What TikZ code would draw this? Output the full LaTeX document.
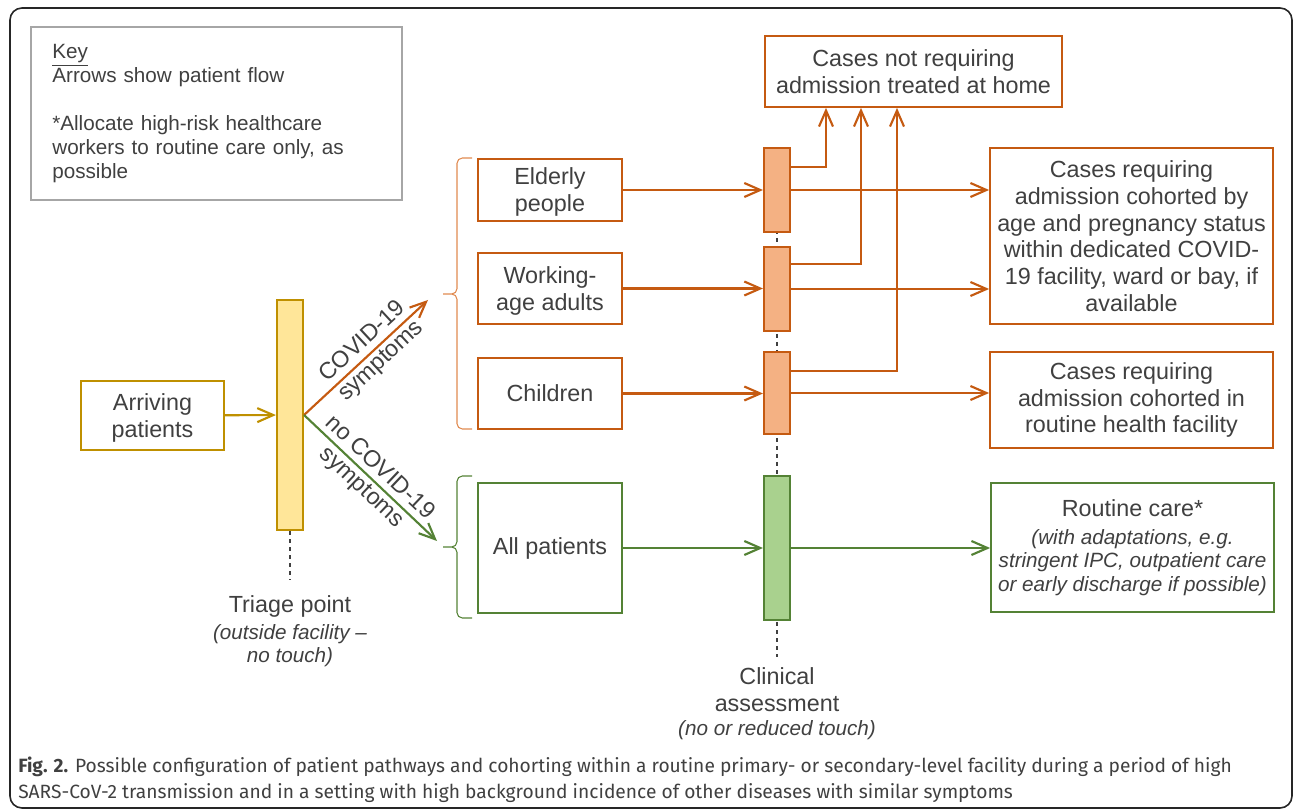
\documentclass[tikz,border=0pt]{standalone}
\usepackage{fontspec}
\setmainfont{Liberation Sans}
\newfontfamily\capfont{Fira Sans}
\usetikzlibrary{arrows.meta,backgrounds}
\definecolor{txt}{HTML}{404040}
\definecolor{gold}{HTML}{BF9000}
\definecolor{goldfill}{HTML}{FFE699}
\definecolor{rust}{HTML}{C55A11}
\definecolor{rustfill}{HTML}{F4B183}
\definecolor{rustbrace}{HTML}{E08A50}
\definecolor{leaf}{HTML}{548235}
\definecolor{leaffill}{HTML}{A9D18E}
\definecolor{keygray}{HTML}{A6A6A6}
\newcommand{\mainsz}{\fontsize{17.5}{20}\selectfont}
\newcommand{\notesz}{\fontsize{15.5}{17.5}\selectfont\itshape}
\tikzstyle{box}=[draw, line width=1.6pt, fill=white, text=txt, align=center, inner sep=0pt, font=\mainsz]
\tikzstyle{bar}=[draw, line width=1.6pt, minimum width=19.5pt, inner sep=0pt]
\tikzstyle{flow}=[line width=1.6pt, -{Straight Barb[length=12pt,width=10.5pt,line width=1.6pt]}]
\tikzstyle{l}=[text=txt, align=center, font=\mainsz, inner sep=1pt]
\tikzstyle{brc}=[line width=0.8pt, rounded corners=4pt]

\begin{document}
\begin{tikzpicture}[x=0.75pt, y=-0.75pt]
\useasboundingbox (0,0) rectangle (1295,812);
\draw[line width=1.2pt, rounded corners=9pt, black!85] (10,8) rectangle (1292,808);
% key
\node[draw=keygray, line width=1.5pt, anchor=north west, minimum width=278pt, minimum height=130pt,
  text width=246pt, inner xsep=15.75pt, align=left, text=txt, font=\fontsize{15.5}{18}\selectfont] (key) at (30,26)
  {\underline{Key}\\Arrows show patient flow\\[18pt]*Allocate high-risk healthcare\\workers to routine care only, as\\possible};
% triage
\node[box, draw=gold, minimum width=107pt, minimum height=52pt] (arr) at (152.5,415.5) {\rule{0pt}{16pt}Arriving\\patients};
\node[bar, draw=gold, fill=goldfill, minimum height=172.5pt] (tri) at (290,415) {};
\draw[flow, gold] (arr) -- (tri);
\draw[dashed, txt, line width=0.8pt] (tri.south) -- ++(0,49);
\node[l, anchor=north] (trilab) at (290,594) {Triage point\\{\notesz (outside facility --}\\[-2.5pt]{\notesz no touch)}};
\coordinate (cv) at (428,300);
\coordinate (nc) at (437,541);
\draw[flow, rust] (tri.east) -- node[l, sloped, pos=0.55] {COVID-19\\symptoms} (cv);
\draw[flow, leaf] (tri.east) -- node[l, sloped, midway] {no COVID-19\\symptoms} (nc);
% patient groups
\foreach \c/\t/\m/\b in {rustbrace/158/294/429, leaf/476/547/618}
  \draw[brc, \c] (472,\t) -| (457,\m) -- (443,\m) (443,\m) -- (457,\m) |- (472,\b);
\foreach \n/\y/\h/\t in {eld/190/46.5/{\rule{0pt}{16pt}Elderly\\people}, wrk/288.5/53/{\rule{0pt}{16pt}Working-\\age adults}, chi/393.5/53/Children}
  \node[box, draw=rust, minimum width=108pt, minimum height=\h pt] (\n) at (550,\y) {\t};
\node[box, draw=leaf, minimum width=108pt, minimum height=97.5pt] (all) at (550,548) {All patients};
% clinical assessment
\foreach \n/\y/\h in {b1/190/63, b2/289/63, b3/393/61.5}
  \node[bar, draw=rust, fill=rustfill, minimum height=\h pt] (\n) at (777,\y) {};
\node[bar, draw=leaf, fill=leaffill, minimum height=108pt] (gb) at (777,548) {};
\begin{scope}[on background layer]
\draw[dashed, txt, line width=0.8pt] (b1.center) -- ++(0,467);
\end{scope}
\node[l, anchor=north] (clin) at (777,666) {Clinical\\assessment\\[-2pt]{\notesz (no or reduced touch)}};
% outcomes
\node[box, draw=rust, minimum width=222.75pt, minimum height=53pt] (home) at (913.5,71.5) {Cases not requiring\\admission treated at home};
\node[box, draw=rust, minimum width=212pt, minimum height=132pt] (adm) at (1131.5,236)
  {Cases requiring\\admission cohorted by\\age and pregnancy status\\within dedicated COVID-\\19 facility, ward or bay, if\\available};
\node[box, draw=rust, minimum width=212pt, minimum height=72pt] (rout) at (1131.5,400) {Cases requiring\\admission cohorted in\\routine health facility};
\node[box, draw=leaf, minimum width=212pt, minimum height=97pt] (rc) at (1132.5,547.5)
  {Routine care*\\[1pt]{\notesz (with adaptations, e.g.}\\[-2.5pt]{\notesz stringent IPC, outpatient care}\\[-2.5pt]{\notesz or early discharge if possible)}};
% flows
\foreach \f/\t in {eld/b1, wrk/b2, chi/b3}
  \draw[flow, rust] (\f.east) -- (\f.east -| \t.west);
\draw[flow, leaf] (all.east) -- (all.east -| gb.west);
\foreach \f/\t in {b1/adm, b2/adm, b3/rout}
  \draw[flow, rust] (\f.east) -- (\f.east -| \t.west);
\draw[flow, leaf] (gb.east) -- (gb.east -| rc.west);
\foreach \f/\x/\d in {b1/826/17, b2/861/18.75, b3/897/16.5}
  \draw[flow, rust] ([yshift=\d pt]\f.east) -| (\x,0 |- home.south);
% caption
\node[anchor=north west, align=left, text=txt, inner sep=0pt, font=\capfont\fontsize{14.4}{19.5}\selectfont] (cap) at (18,757)
  {\textbf{Fig. 2.} Possible configuration of patient pathways and cohorting within a routine primary- or secondary-level facility during a period of high\\SARS-CoV-2 transmission and in a setting with high background incidence of other diseases with similar symptoms};
\end{tikzpicture}
\end{document}
